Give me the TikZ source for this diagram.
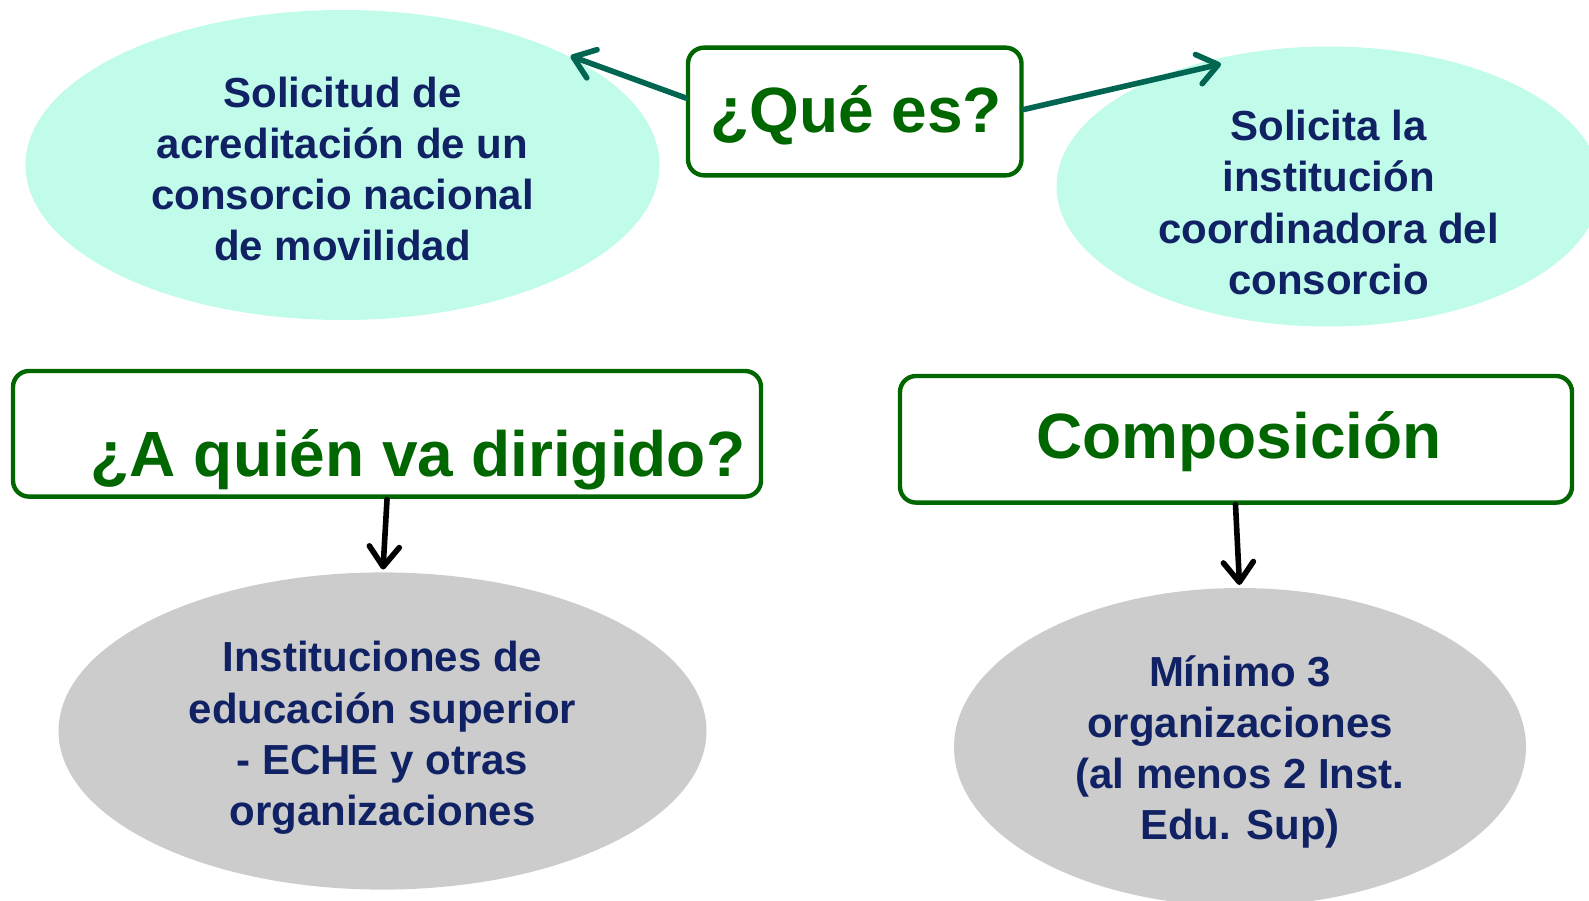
\documentclass[tikz,border=0pt]{standalone}
\usepackage{fontspec}
\setmainfont{Liberation Sans}
\usetikzlibrary{shapes.geometric,arrows.meta}
\definecolor{navy}{RGB}{16,34,100}
\definecolor{dgreen}{RGB}{0,102,0}
\definecolor{teal2}{RGB}{0,102,82}
\definecolor{cyanfill}{RGB}{193,251,234}
\definecolor{grayfill}{RGB}{204,204,204}
\tikzset{
  ell/.style={ellipse, inner sep=0pt, draw=none},
  cyanell/.style={ell, fill=cyanfill},
  grayell/.style={ell, fill=grayfill},
  etext/.style={align=center, text=navy, font=\fontsize{21}{25.6}\selectfont\bfseries},
  titlebox/.style={draw=dgreen, line width=2.2pt, rounded corners=8pt, fill=white, inner sep=0pt},
  ttext/.style={text=dgreen, font=\fontsize{32}{38}\selectfont\bfseries},
  conn/.style={line width=2.8pt, line cap=round, -{Straight Barb[length=10pt, width=15pt, line width=2.8pt, line cap=round, line join=round]}},
}
\begin{document}
\begin{tikzpicture}[x=0.5pt, y=-0.5pt]
\useasboundingbox (0,0) rectangle (1589,900);
% ellipses
\node[cyanell, minimum width=317pt, minimum height=155pt] (e1) at (342.5,165) {};
\node[cyanell, minimum width=272pt, minimum height=140pt] (e2) at (1328.5,186.5) {};
\node[grayell, minimum width=324pt, minimum height=158.6pt] (e3) at (382.5,731) {};
\node[grayell, minimum width=286pt, minimum height=159pt] (e4) at (1240,747) {};
\node[etext] (t1) at (342.5,169) {Solicitud de\\acreditación de un\\consorcio nacional\\de movilidad};
\node[etext] (t2) at (1328.5,202.5) {Solicita la\\institución\\coordinadora del\\consorcio};
\node[etext] (t3) at (382.5,738) {Instituciones de\\educación superior\\- ECHE y otras\\organizaciones};
\node[etext] (t4) at (1240,752) {Mínimo 3\\organizaciones\\(al menos 2 Inst.\\Edu. Sup)};
% boxes
\node[titlebox, minimum width=166.75pt, minimum height=63.85pt] (b1) at (854.75,111.5) {};
\node[titlebox, minimum width=374pt, minimum height=62.8pt] (b2) at (387,433.8) {};
\node[titlebox, minimum width=336pt, minimum height=63.3pt] (b3) at (1236,439.3) {};
\node[ttext, anchor=base] (l1) at (856,132) {¿Qué es?};
\node[ttext, anchor=base] (l2) at (418,476) {¿A quién va dirigido?};
\node[ttext, anchor=base] (l3) at (1239,458) {Composición};
% connectors
\coordinate (a1) at (570.5,56);
\coordinate (a2) at (1221,64);
\coordinate (s3) at (387,499.6);
\coordinate (a3) at (383,569.5);
\coordinate (s4) at (1235.5,504.6);
\coordinate (a4) at (1239.5,585);
\draw[conn, teal2] (b1.west |- 0,98) -- (a1);
\draw[conn, teal2] (b1.east |- 0,109.5) -- (a2);
\draw[conn, black] (s3) -- (a3);
\draw[conn, black] (s4) -- (a4);
\end{tikzpicture}
\end{document}
